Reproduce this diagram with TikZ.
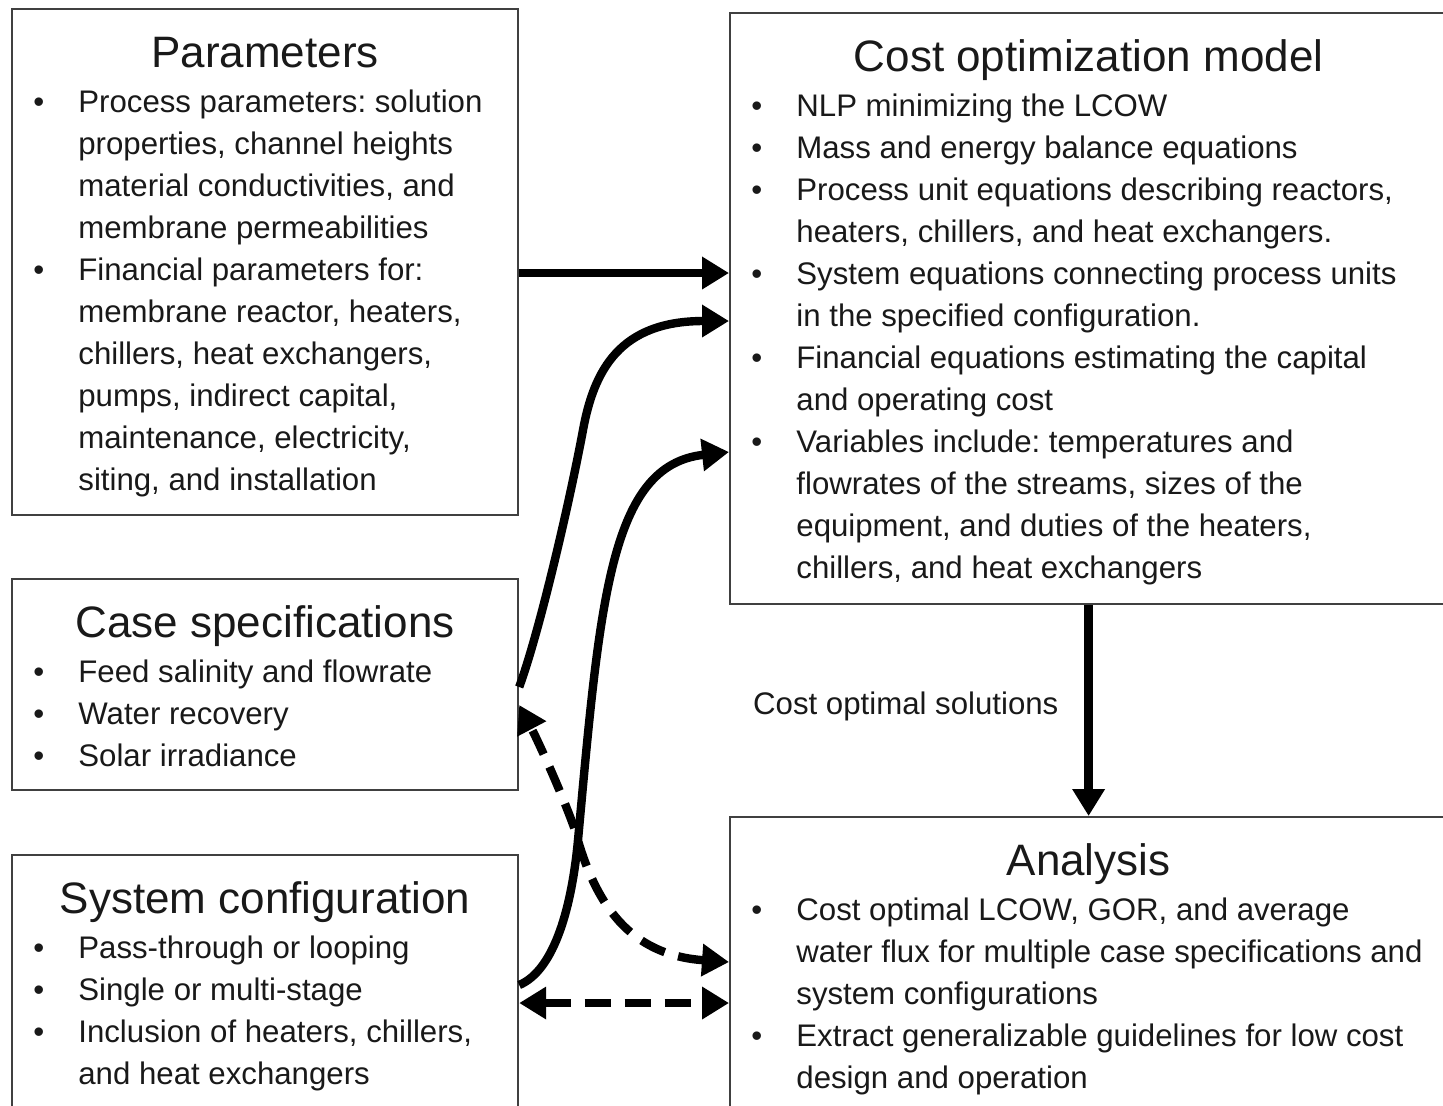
\documentclass[tikz,border=0pt]{standalone}
\usepackage{fontspec}
\setmainfont{Liberation Sans}
\usepackage{tikz}
\usetikzlibrary{calc, arrows.meta}
\frenchspacing

\newcommand{\itm}{\leavevmode\llap{\textbullet\hspace{17pt}}}

\begin{document}
\begin{tikzpicture}[x=0.5pt, y=-0.5pt,
    box/.style={draw=black!75, line width=1.1pt, inner sep=0pt, anchor=north west},
    ttl/.style={anchor=base, inner sep=0pt, text=black!90, font=\fontsize{22pt}{26pt}\selectfont},
    lst/.style={anchor=base west, inner sep=0pt, text=black!90, font=\fontsize{15.6pt}{21pt}\selectfont},
    lbl/.style={inner sep=0pt, text=black!90, font=\fontsize{15.6pt}{21pt}\selectfont},
    flow/.style={line width=4.2pt, -{Triangle[length=13.5pt, width=15.5pt]}},
    fb/.style={line width=4.2pt, dash pattern=on 13pt off 7pt,
        {Triangle[length=13.5pt, width=15.5pt]}-{Triangle[length=13.5pt, width=15.5pt]}}]
    \useasboundingbox (0,0) rectangle (1443,1105);
    \fill[white] (0,0) rectangle (1443,1105);
    \clip (0,0) rectangle (1443,1105);

    % boxes
    \node[box, minimum width=253pt, minimum height=253pt] (params) at (11,8) {};
    \node[box, minimum width=253pt, minimum height=105.5pt] (case) at (11,578) {};
    \node[box, minimum width=253pt, minimum height=129pt] (sysconf) at (11,854) {};
    \node[box, minimum width=358.5pt, minimum height=295.5pt] (cost) at (729,12) {};
    \node[box, minimum width=358.5pt, minimum height=148pt] (analysis) at (729,816) {};

    % titles
    \node[ttl] (paramsttl) at ($(params.north)+(0,59)$) {Parameters};
    \node[ttl] (casettl) at ($(case.north)+(0,59)$) {Case specifications};
    \node[ttl] (sysconfttl) at ($(sysconf.north)+(0,59)$) {System configuration};
    \node[ttl] (costttl) at ($(cost.north)+(0,59)$) {Cost optimization model};
    \node[ttl] (analysisttl) at ($(analysis.north)+(0,59)$) {Analysis};

    % lists
    \node[lst] (paramslst) at ($(params.north west)+(67,104)$) {\parbox[t]{320pt}{\raggedright
        \itm Process parameters: solution\\
        properties, channel heights\\
        material conductivities, and\\
        membrane permeabilities\\
        \itm Financial parameters for:\\
        membrane reactor, heaters,\\
        chillers, heat exchangers,\\
        pumps, indirect capital,\\
        maintenance, electricity,\\
        siting, and installation}};
    \node[lst] (caselst) at ($(case.north west)+(67,104)$) {\parbox[t]{320pt}{\raggedright
        \itm Feed salinity and flowrate\\
        \itm Water recovery\\
        \itm Solar irradiance}};
    \node[lst] (sysconflst) at ($(sysconf.north west)+(67,104)$) {\parbox[t]{320pt}{\raggedright
        \itm Pass-through or looping\\
        \itm Single or multi-stage\\
        \itm Inclusion of heaters, chillers,\\
        and heat exchangers}};
    \node[lst] (costlst) at ($(cost.north west)+(67,104)$) {\parbox[t]{330pt}{\raggedright
        \itm NLP minimizing the LCOW\\
        \itm Mass and energy balance equations\\
        \itm Process unit equations describing reactors,\\
        heaters, chillers, and heat exchangers.\\
        \itm System equations connecting process units\\
        in the specified configuration.\\
        \itm Financial equations estimating the capital\\
        and operating cost\\
        \itm Variables include: temperatures and\\
        flowrates of the streams, sizes of the\\
        equipment, and duties of the  heaters,\\
        chillers, and heat exchangers}};
    \node[lst] (analysislst) at ($(analysis.north west)+(67,104)$) {\parbox[t]{330pt}{\raggedright
        \itm Cost optimal LCOW, GOR, and average\\
        water flux for multiple case specifications and\\
        system configurations\\
        \itm Extract generalizable guidelines for low cost\\
        design and operation}};

    % connectors
    \coordinate (pout) at ([yshift=-132.5pt]params.north east);
    \draw[flow] (pout) -- (pout -| cost.west);

    \coordinate (cout) at ([yshift=-54.5pt]case.north east);
    \coordinate (cin1) at ([yshift=-154.5pt]cost.north west);
    \draw[flow] (cout) .. controls (540,630) and (570,500) .. (583,430)
        .. controls (594,370) and (620,321) .. (cin1);

    \coordinate (sout) at ([yshift=-65.5pt]sysconf.north east);
    \coordinate (cin2) at ([yshift=-220pt]cost.north west);
    \draw[flow] (sout) .. controls (555,970) and (572,905) .. (578,840)
        .. controls (600,600) and (610,465) .. (cin2);

    \coordinate (ain) at ([yshift=-73pt]analysis.north west);
    \coordinate (cin3) at ([yshift=-63.5pt]case.north east);
    \draw[fb] (ain) .. controls (630,955) and (595,905) .. (575,830)
        .. controls (560,788) and (535,735) .. (cin3);

    \coordinate (sout2) at ([yshift=-74.5pt]sysconf.north east);
    \draw[fb] (sout2) -- (sout2 -| analysis.west);

    \draw[flow] (cost.south) -- (analysis.north)
        node[lbl, midway, left=13pt, yshift=2pt] (sol) {Cost optimal solutions};
\end{tikzpicture}
\end{document}
